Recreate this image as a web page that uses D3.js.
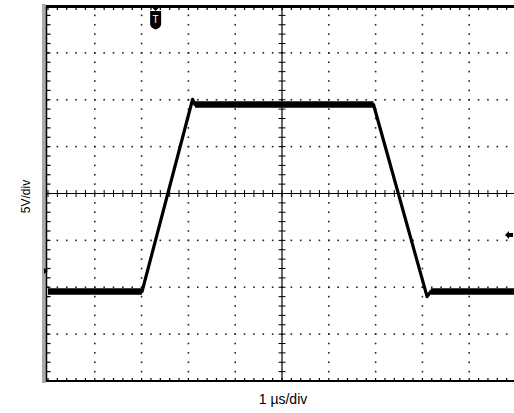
<!DOCTYPE html>
<html>
<head>
<meta charset="utf-8">
<script src="https://cdn.jsdelivr.net/npm/d3@7/dist/d3.min.js"></script>
<style>
  html, body { margin: 0; padding: 0; background: #fff; }
  svg { display: block; }
  text { font-family: "Liberation Sans", Arial, sans-serif; fill: #000; }
</style>
</head>
<body>
<svg id="scope" width="514" height="413"></svg>
<script>
// Pulse waveform, time in µs relative to screen centre, amplitude in volts
const timeUs = [-5, -2.99, -1.91, -1.86, 1.955, 3.10, 3.18, 5];
const volts  = [-10.45, -10.45, 10.05, 9.49, 9.49, -11.0, -10.45, -10.45];
// Index ranges of the flat (noisy) parts of the trace
const flatSegments = [[0, 1], [3, 4], [6, 7]];

// Scope settings
const timeDivs = [-5, -4, -3, -2, -1, 0, 1, 2, 3, 4, 5];
const voltDivs = [-20, -15, -10, -5, 0, 5, 10, 15, 20];
const triggerTime = -2.70;
const triggerLevel = -4.43;
const groundLevel = -8.27;
const xLabel = "1 \u00b5s/div";
const yLabel = "5V/div";

const svg = d3.select("#scope");
const x = d3.scaleLinear().domain([-5, 5]).range([48, 516]);
const y = d3.scaleLinear().domain([-20, 20]).range([381, 6]);

const minorT = d3.range(-5, 5.001, 0.2);
const minorV = d3.range(-20, 20.001, 1);

// Dotted graticule
const dots = svg.append("g").attr("fill", "#222");
timeDivs.filter(t => t !== 0 && t !== -5).forEach(t => {
  minorV.forEach(v => {
    dots.append("rect").attr("x", x(t) - 0.8).attr("y", y(v) - 0.8)
      .attr("width", 1.6).attr("height", 1.6);
  });
});
voltDivs.filter(v => v !== 0 && v !== 20 && v !== -20).forEach(v => {
  minorT.forEach(t => {
    dots.append("rect").attr("x", x(t) - 0.8).attr("y", y(v) - 0.8)
      .attr("width", 1.6).attr("height", 1.6);
  });
});

// Centre axes with minor ticks
const axes = svg.append("g").attr("stroke", "#000");
axes.append("line").attr("x1", x(-5)).attr("x2", x(5)).attr("y1", y(0)).attr("y2", y(0)).attr("stroke-width", 1.2);
axes.append("line").attr("x1", x(0)).attr("x2", x(0)).attr("y1", y(20)).attr("y2", y(-20)).attr("stroke-width", 1.2);
minorT.forEach(t => {
  axes.append("line").attr("x1", x(t)).attr("x2", x(t)).attr("y1", y(0) - 3.5).attr("y2", y(0) + 3.5);
});
minorV.forEach(v => {
  axes.append("line").attr("x1", x(0) - 3.5).attr("x2", x(0) + 3.5).attr("y1", y(v)).attr("y2", y(v));
});

// Frame: gray left edge, heavy top edge, bottom line, each with ticks
const frame = svg.append("g");
frame.append("rect").attr("x", 42).attr("y", y(20) - 2).attr("width", 4).attr("height", y(-20) - y(20) + 4).attr("fill", "#aaa");
frame.append("line").attr("x1", 46.5).attr("x2", 46.5).attr("y1", y(20)).attr("y2", y(-20)).attr("stroke", "#000").attr("stroke-width", 1.5);
minorV.forEach(v => {
  frame.append("line").attr("x1", 46).attr("x2", 50.5).attr("y1", y(v)).attr("y2", y(v)).attr("stroke", "#000").attr("stroke-width", 1.2);
});
frame.append("line").attr("x1", 46).attr("x2", 514).attr("y1", y(20) + 0.5).attr("y2", y(20) + 0.5).attr("stroke", "#000").attr("stroke-width", 3);
minorT.forEach(t => {
  frame.append("line").attr("x1", x(t)).attr("x2", x(t)).attr("y1", y(20)).attr("y2", y(20) + 4).attr("stroke", "#000").attr("stroke-width", 1.2);
});
frame.append("line").attr("x1", 46).attr("x2", 514).attr("y1", y(-20)).attr("y2", y(-20)).attr("stroke", "#000").attr("stroke-width", 2);
minorT.forEach(t => {
  frame.append("line").attr("x1", x(t)).attr("x2", x(t)).attr("y1", y(-20)).attr("y2", y(-20) - 3).attr("stroke", "#000").attr("stroke-width", 1.2);
});

// Trace
const pts = timeUs.map((t, i) => [x(t), y(volts[i])]);
const line = d3.line();
svg.append("path").attr("d", line(pts)).attr("fill", "none")
  .attr("stroke", "#000").attr("stroke-width", 3.2).attr("stroke-linejoin", "round");
flatSegments.forEach(([a, b]) => {
  svg.append("path").attr("d", line(pts.slice(a, b + 1))).attr("fill", "none")
    .attr("stroke", "#000").attr("stroke-width", 6.5);
});

// Trigger position marker
const tx = x(triggerTime);
const trig = svg.append("g").attr("transform", `translate(${tx},${y(20)})`);
trig.append("path").attr("d", "M-4,1 L4,1 L0,5 Z").attr("fill", "#000");
trig.append("path").attr("d", "M-5.5,5 L5.5,5 L5.5,18 Q5.5,21.5 0,23.5 Q-5.5,21.5 -5.5,18 Z").attr("fill", "#000");
trig.append("text").attr("x", 0).attr("y", 16.5).attr("text-anchor", "middle")
  .attr("font-size", 10).style("fill", "#fff").text("T");

// Trigger level marker (right edge)
svg.append("path")
  .attr("transform", `translate(509,${y(triggerLevel)})`)
  .attr("d", "M-4,0 L0,-4 L0,-2 L4,-2 L4,2 L0,2 L0,4 Z").attr("fill", "#000");

// Ground reference marker (left edge)
svg.append("path")
  .attr("transform", `translate(45,${y(groundLevel)})`)
  .attr("d", "M-1,-3 L3,0 L-1,3 Z").attr("fill", "#000");

// Labels
svg.append("text").attr("x", x(0) + 1).attr("y", 404).attr("text-anchor", "middle")
  .attr("font-size", 14).text(xLabel);
svg.append("text").attr("transform", `translate(30,${y(0) + 3}) rotate(-90)`)
  .attr("text-anchor", "middle").attr("font-size", 12).text(yLabel);
</script>
</body>
</html>
